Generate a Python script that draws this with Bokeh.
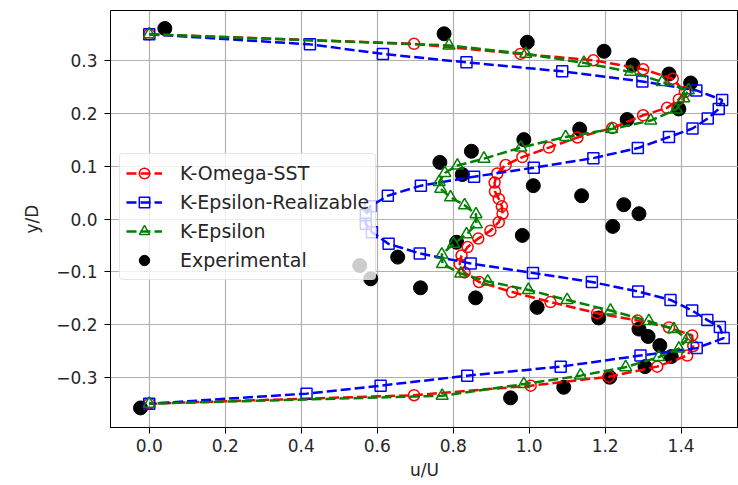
from bokeh.plotting import figure
from bokeh.models import Range1d, Legend, LegendItem, CustomJSTickFormatter
from bokeh.embed import file_html
from bokeh.resources import INLINE

# K-Omega-SST
sst_x = [0.000, 0.697, 0.977, 1.169, 1.300, 1.378, 1.410, 1.394, 1.363, 1.300, 1.219, 1.127,
         1.052, 0.982, 0.938, 0.916, 0.909, 0.910, 0.920, 0.928, 0.930, 0.920, 0.898, 0.866,
         0.838, 0.822, 0.817, 0.830, 0.868, 0.955, 1.056, 1.179, 1.285, 1.368, 1.429, 1.432,
         1.416, 1.337, 1.210, 1.004, 0.697, 0.000]
sst_y = [0.349, 0.331, 0.312, 0.300, 0.283, 0.265, 0.240, 0.226, 0.210, 0.196, 0.172, 0.154,
         0.135, 0.117, 0.102, 0.086, 0.069, 0.052, 0.038, 0.024, 0.010, -0.006, -0.022, -0.037,
         -0.053, -0.069, -0.085, -0.101, -0.119, -0.138, -0.157, -0.178, -0.192, -0.205, -0.220, -0.240,
         -0.258, -0.279, -0.298, -0.315, -0.333, -0.349]

# K-Epsilon-Realizable
ker_x = [0.000, 0.423, 0.615, 0.835, 1.087, 1.298, 1.440, 1.508, 1.499, 1.470, 1.430, 1.368,
         1.286, 1.169, 1.012, 0.855, 0.715, 0.628, 0.582, 0.570, 0.570, 0.586, 0.630, 0.712,
         0.846, 1.010, 1.165, 1.287, 1.372, 1.429, 1.469, 1.502, 1.512, 1.441, 1.293, 1.083,
         0.837, 0.609, 0.414, 0.000]
ker_y = [0.349, 0.330, 0.312, 0.296, 0.279, 0.260, 0.243, 0.225, 0.208, 0.190, 0.171, 0.155,
         0.134, 0.115, 0.097, 0.080, 0.063, 0.044, 0.024, 0.007, -0.009, -0.025, -0.047, -0.065,
         -0.084, -0.102, -0.119, -0.137, -0.153, -0.173, -0.191, -0.204, -0.225, -0.244, -0.258, -0.279,
         -0.296, -0.315, -0.330, -0.349]

# K-Epsilon
ke_x = [0.000, 0.789, 0.991, 1.144, 1.267, 1.350, 1.419, 1.407, 1.387, 1.320, 1.217, 1.096,
        0.978, 0.881, 0.811, 0.778, 0.763, 0.767, 0.793, 0.830, 0.860, 0.861, 0.835, 0.801,
        0.770, 0.772, 0.820, 0.891, 0.998, 1.100, 1.214, 1.315, 1.381, 1.416, 1.394, 1.341,
        1.254, 1.135, 0.986, 0.771, 0.000]
ke_y = [0.349, 0.328, 0.312, 0.295, 0.278, 0.259, 0.243, 0.228, 0.207, 0.186, 0.170, 0.155,
        0.135, 0.114, 0.101, 0.087, 0.070, 0.057, 0.041, 0.026, 0.009, -0.010, -0.029, -0.047,
        -0.067, -0.085, -0.103, -0.118, -0.134, -0.153, -0.173, -0.193, -0.208, -0.227, -0.245, -0.261,
        -0.280, -0.296, -0.312, -0.334, -0.349]

# Experimental
exp_x = [0.041, 0.776, 0.995, 1.197, 1.273, 1.368, 1.425, 1.394, 1.258, 1.133, 0.986, 0.848,
         0.765, 0.824, 1.011, 1.138, 1.249, 1.289, 1.220, 0.982, 0.809, 0.654, 0.554, 0.583,
         0.714, 0.859, 1.021, 1.183, 1.289, 1.313, 1.344, 1.374, 1.305, 1.212, 1.091, 0.951,
         -0.023]
exp_y = [0.360, 0.350, 0.334, 0.317, 0.291, 0.274, 0.257, 0.208, 0.188, 0.170, 0.150, 0.128,
         0.107, 0.084, 0.063, 0.044, 0.027, 0.010, -0.014, -0.031, -0.044, -0.072, -0.088, -0.113,
         -0.130, -0.149, -0.167, -0.187, -0.208, -0.222, -0.239, -0.260, -0.279, -0.299, -0.318, -0.338,
         -0.357]

x_ticks = [0.0, 0.2, 0.4, 0.6, 0.8, 1.0, 1.2, 1.4]
y_ticks = [-0.3, -0.2, -0.1, 0.0, 0.1, 0.2, 0.3]

FONT = "DejaVu Sans"

p = figure(width=738, height=485, output_backend="svg", toolbar_location=None,
           x_range=Range1d(-0.102, 1.551), y_range=Range1d(-0.394, 0.394),
           min_border_left=110, min_border_right=0, min_border_top=10, min_border_bottom=58)
p.background_fill_color = "white"
p.border_fill_color = "white"
p.outline_line_color = "black"
p.outline_line_width = 1

fmt = CustomJSTickFormatter(code="return tick.toFixed(1).replace('-', '\\u2212');")
for ax, ticks, lab in ((p.xaxis[0], x_ticks, "u/U"), (p.yaxis[0], y_ticks, "y/D")):
    ax.ticker = ticks
    ax.formatter = fmt
    ax.axis_label = lab
    ax.axis_label_text_font = FONT
    ax.axis_label_text_font_style = "normal"
    ax.axis_label_text_font_size = "17px"
    ax.axis_label_text_color = "#262626"
    ax.major_label_text_font = FONT
    ax.major_label_text_font_size = "17px"
    ax.major_label_text_color = "#262626"
    ax.minor_tick_line_color = None
    ax.major_tick_out = 6
    ax.major_tick_in = 0
    ax.axis_line_color = "black"
    ax.major_tick_line_color = "black"
p.xaxis.major_label_standoff = 5
p.xaxis.axis_label_standoff = 5
p.yaxis.major_label_standoff = 7
p.yaxis.axis_label_standoff = 11

for g in (p.xgrid[0], p.ygrid[0]):
    g.grid_line_color = "#b0b0b0"
    g.grid_line_width = 1.2

r_exp = p.scatter(exp_x, exp_y, marker="circle", size=14, fill_color="black", line_color="black")

dash = "10 4"
l_sst = p.line(sst_x, sst_y, line_color="#ff0000", line_width=2.5, line_dash=dash)
m_sst = p.scatter(sst_x, sst_y, marker="circle", size=11, fill_color=None, line_color="#ff0000", line_width=1.5)
l_ker = p.line(ker_x, ker_y, line_color="#0000ff", line_width=2.5, line_dash=dash)
m_ker = p.scatter(ker_x, ker_y, marker="square", size=11, fill_color=None, line_color="#0000ff", line_width=1.5)
l_ke = p.line(ke_x, ke_y, line_color="#008000", line_width=2.5, line_dash=dash)
m_ke = p.scatter(ke_x, ke_y, marker="triangle", size=12, fill_color=None, line_color="#008000", line_width=1.5)

legend = Legend(items=[
    LegendItem(label="K-Omega-SST", renderers=[l_sst, m_sst]),
    LegendItem(label="K-Epsilon-Realizable", renderers=[l_ker, m_ker]),
    LegendItem(label="K-Epsilon", renderers=[l_ke, m_ke]),
    LegendItem(label="Experimental", renderers=[r_exp]),
])
legend.location = (9, 147)
legend.label_text_font = FONT
legend.label_text_font_size = "19px"
legend.label_text_color = "#262626"
legend.glyph_width = 36
legend.glyph_height = 26
legend.label_height = 26
legend.label_standoff = 18
legend.spacing = 3
legend.padding = 6
legend.margin = 0
legend.background_fill_color = "white"
legend.background_fill_alpha = 0.8
legend.border_line_color = "#cccccc"
legend.border_line_width = 1
legend.border_radius = 4
p.add_layout(legend)

open("out.html", "w").write(file_html(p, INLINE))
